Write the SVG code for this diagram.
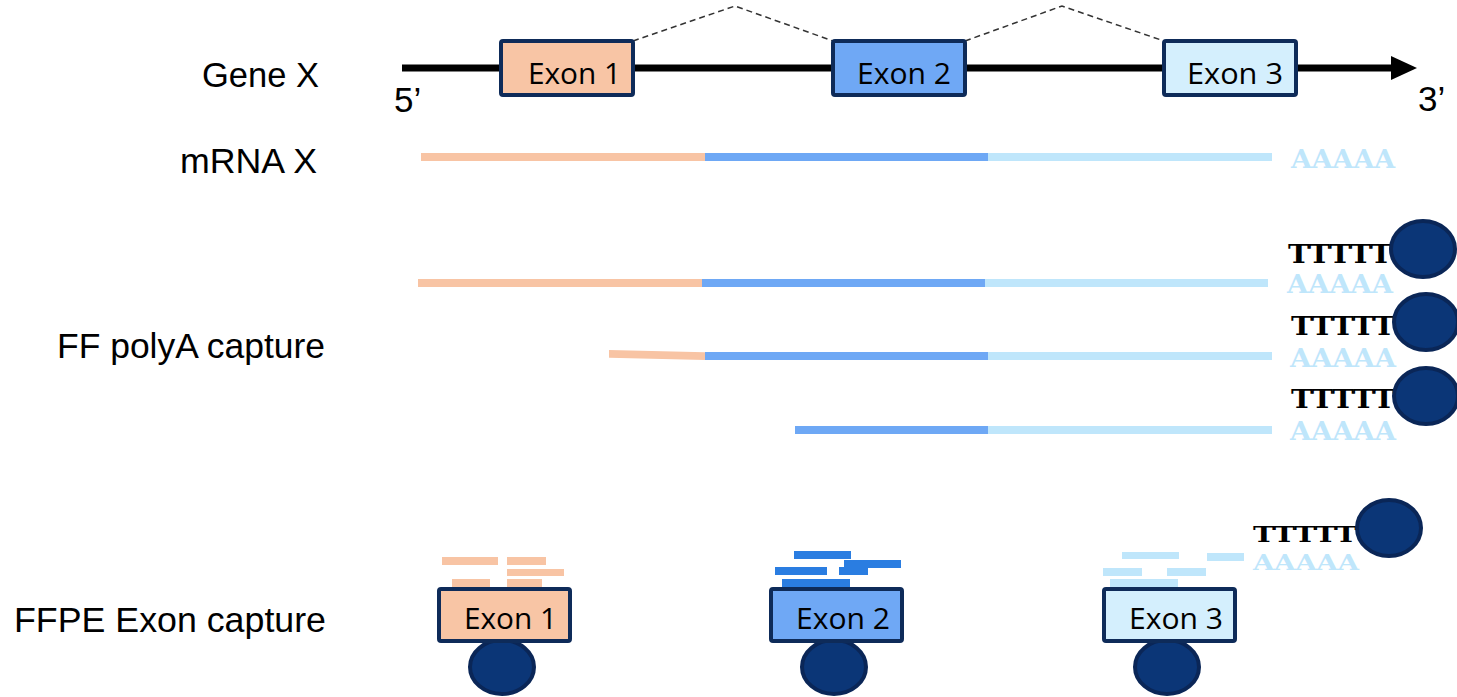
<svg xmlns="http://www.w3.org/2000/svg" width="1457" height="697" viewBox="0 0 1457 697">
<style>
.lbl{font-family:"Liberation Sans",Arial,sans-serif;font-size:35px;fill:#000}
.ex{font-family:"Open Sans","Liberation Sans",sans-serif;font-size:30px;fill:#000}
.box{stroke:#0e2b59;stroke-width:4}
.e1{fill:#f8c5a5}.e2{fill:#6fa8f5}.e3{fill:#d4effd}
.or{fill:#f8c4a4}.bl{fill:#6ea8f5}.lb{fill:#bfe6fb}
.fb{fill:#2a7de1}
.bead{fill:#0b3677;stroke:#0a2657;stroke-width:4}
.tt{font-family:"DejaVu Serif","Liberation Serif",serif;font-weight:bold;font-size:26px;fill:#000}
.aa{font-family:"DejaVu Serif","Liberation Serif",serif;font-weight:bold;font-size:26px;fill:#bfe6fb}
.sm{font-size:23px}
.dash{fill:none;stroke:#333;stroke-width:1.5;stroke-dasharray:6 4}
</style>
<rect width="1457" height="697" fill="#fff"/>

<g id="labels">
<text class="lbl" x="202" y="87" textLength="117" lengthAdjust="spacingAndGlyphs">Gene X</text>
<text class="lbl" x="180" y="173" textLength="137" lengthAdjust="spacingAndGlyphs">mRNA X</text>
<text class="lbl" x="57" y="358" textLength="268" lengthAdjust="spacingAndGlyphs">FF polyA capture</text>
<text class="lbl" x="14" y="632" textLength="312" lengthAdjust="spacingAndGlyphs">FFPE Exon capture</text>
<text class="lbl" x="394" y="112">5’</text>
<text class="lbl" x="1418" y="111">3’</text>
</g>

<g id="connectors">
<line x1="402" y1="68" x2="1395" y2="68" stroke="#000" stroke-width="7"/>
<polygon points="1391,56 1417,68 1391,80" fill="#000"/>
<polyline class="dash" points="633,41 735,6 833,41"/>
<polyline class="dash" points="965,41 1062,6 1164,41"/>
</g>

<g id="gene-exon1"><rect class="box e1" x="501" y="41" width="132" height="54" rx="2"/><text class="ex" x="528" y="84" textLength="93" lengthAdjust="spacingAndGlyphs">Exon 1</text></g>
<g id="gene-exon2"><rect class="box e2" x="833" y="41" width="132" height="54" rx="2"/><text class="ex" x="857" y="84" textLength="94" lengthAdjust="spacingAndGlyphs">Exon 2</text></g>
<g id="gene-exon3"><rect class="box e3" x="1164" y="41" width="132" height="54" rx="2"/><text class="ex" x="1187" y="84" textLength="96" lengthAdjust="spacingAndGlyphs">Exon 3</text></g>

<g id="mrna">
<rect class="or" x="421" y="153" width="284" height="8"/>
<rect class="bl" x="705" y="153" width="283" height="8"/>
<rect class="lb" x="988" y="153" width="284" height="8"/>
<text class="aa" x="1291" y="168" textLength="104" lengthAdjust="spacingAndGlyphs">AAAAA</text>
</g>

<g id="ff-read1">
<rect class="or" x="418" y="279" width="284" height="8"/>
<rect class="bl" x="702" y="279" width="283" height="8"/>
<rect class="lb" x="985" y="279" width="283" height="8"/>
<text class="aa" x="1287" y="293" textLength="106" lengthAdjust="spacingAndGlyphs">AAAAA</text>
<text class="tt" x="1288" y="263" textLength="104" lengthAdjust="spacingAndGlyphs">TTTTT</text>
<ellipse class="bead" cx="1423" cy="249" rx="32" ry="28"/>
</g>

<g id="ff-read2">
<polygon class="or" points="609,350 705,352.3 705,360 609,357.7"/>
<rect class="bl" x="705" y="352" width="283" height="8"/>
<rect class="lb" x="988" y="352" width="284" height="8"/>
<text class="aa" x="1290" y="367" textLength="106" lengthAdjust="spacingAndGlyphs">AAAAA</text>
<text class="tt" x="1291" y="335" textLength="104" lengthAdjust="spacingAndGlyphs">TTTTT</text>
<ellipse class="bead" cx="1426" cy="322" rx="32" ry="28"/>
</g>

<g id="ff-read3">
<rect class="bl" x="795" y="426" width="193" height="8"/>
<rect class="lb" x="988" y="426" width="284" height="8"/>
<text class="aa" x="1290" y="440" textLength="106" lengthAdjust="spacingAndGlyphs">AAAAA</text>
<text class="tt" x="1291" y="408" textLength="104" lengthAdjust="spacingAndGlyphs">TTTTT</text>
<ellipse class="bead" cx="1426" cy="396" rx="32" ry="28"/>
</g>

<g id="ffpe-free">
<text class="aa sm" x="1253" y="570" textLength="106" lengthAdjust="spacingAndGlyphs">AAAAA</text>
<text class="tt sm" x="1253" y="542" textLength="104" lengthAdjust="spacingAndGlyphs">TTTTT</text>
<ellipse class="bead" cx="1389" cy="528" rx="32" ry="28"/>
</g>

<g id="ffpe-exon1">
<ellipse class="bead" cx="502" cy="667" rx="32" ry="27"/>
<rect class="or" x="442" y="557" width="56" height="8"/>
<rect class="or" x="507" y="557" width="39" height="8"/>
<rect class="or" x="507" y="569" width="57" height="7"/>
<rect class="or" x="452" y="579" width="38" height="8"/>
<rect class="or" x="507" y="579" width="35" height="8"/>
<rect class="box e1" x="439" y="589" width="131" height="52" rx="2"/>
<text class="ex" x="464" y="629" textLength="93" lengthAdjust="spacingAndGlyphs">Exon 1</text>
</g>

<g id="ffpe-exon2">
<ellipse class="bead" cx="834" cy="667" rx="32" ry="27"/>
<rect class="fb" x="794" y="551" width="57" height="8"/>
<rect class="fb" x="844" y="560" width="57" height="8"/>
<rect class="fb" x="775" y="567" width="52" height="8"/>
<rect class="fb" x="839" y="567" width="29" height="8"/>
<rect class="fb" x="782" y="579" width="68" height="8"/>
<rect class="box e2" x="771" y="589" width="131" height="52" rx="2"/>
<text class="ex" x="796" y="629" textLength="94" lengthAdjust="spacingAndGlyphs">Exon 2</text>
</g>

<g id="ffpe-exon3">
<ellipse class="bead" cx="1167" cy="667" rx="32" ry="27"/>
<rect class="lb" x="1122" y="552" width="57" height="7"/>
<rect class="lb" x="1207" y="553" width="37" height="8"/>
<rect class="lb" x="1103" y="568" width="39" height="8"/>
<rect class="lb" x="1167" y="568" width="39" height="8"/>
<rect class="lb" x="1110" y="579" width="68" height="8"/>
<rect class="box e3" x="1104" y="589" width="131" height="52" rx="2"/>
<text class="ex" x="1129" y="629" textLength="94" lengthAdjust="spacingAndGlyphs">Exon 3</text>
</g>
</svg>
